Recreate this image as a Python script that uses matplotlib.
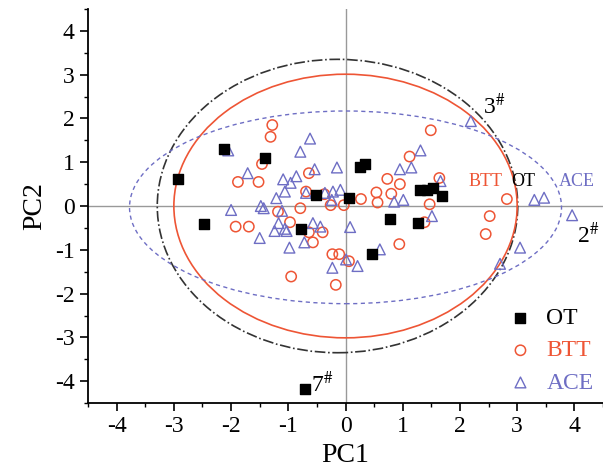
import numpy as np
import matplotlib
matplotlib.use('Agg')
import matplotlib.pyplot as plt
from matplotlib.patches import Ellipse
from matplotlib.ticker import MultipleLocator

plt.rcParams['font.family'] = ['Liberation Serif', 'DejaVu Serif']
plt.rcParams['mathtext.fontset'] = 'stix'
plt.rcParams['axes.unicode_minus'] = False

# OT samples (filled squares)
ot_x = [-2.93, -2.48, -2.13, -1.40, -0.77, -0.51, 0.06, 0.26, 0.34, 0.47,
        0.77, 1.27, 1.30, 1.42, 1.53, 1.68, -0.71]
ot_y = [0.61, -0.40, 1.30, 1.10, -0.53, 0.25, 0.18, 0.90, 0.97, -1.09,
        -0.29, -0.38, 0.37, 0.37, 0.42, 0.24, -4.17]

# BTT samples (open circles)
btt_x = [-1.28, -1.31, -1.46, -1.88, -1.52, -1.92, -1.69, -1.18, -0.79, -0.97,
         -0.64, -0.69, -0.64, -0.57, -0.40, -0.37, -0.26, -0.03, -0.23, -0.11,
         0.06, -0.95, -0.17, 0.27, 0.54, 0.56, 0.73, 0.80, 0.95, 0.94,
         1.12, 1.49, 1.64, 1.47, 1.38, 2.45, 2.52, 2.82]
btt_y = [1.85, 1.58, 0.96, 0.55, 0.55, -0.47, -0.47, -0.13, -0.05, -0.37,
         0.75, 0.33, -0.60, -0.83, -0.60, 0.27, 0.02, 0.02, -1.10, -1.10,
         -1.26, -1.61, -1.80, 0.16, 0.31, 0.08, 0.62, 0.28, 0.50, -0.87,
         1.13, 1.73, 0.64, 0.04, -0.37, -0.64, -0.23, 0.16]

# ACE samples (open triangles)
ace_x = [-2.05, -1.71, -2.00, -1.48, -1.43, -1.21, -1.09, -1.06, -0.96, -0.86,
         -0.79, -0.62, -0.54, -0.69, -1.11, -1.17, -1.24, -1.06, -1.03, -1.50,
         -0.98, -0.72, -0.57, -0.44, -0.36, -0.22, -0.09, -0.15, -0.24, -0.23,
         0.01, 0.21, 0.08, 0.60, 0.85, 1.01, 0.95, 1.15, 1.31, 1.51,
         1.66, 2.19, 3.30, 3.47, 3.96, 3.05, 2.70]
ace_y = [1.27, 0.75, -0.09, 0.00, -0.05, 0.18, 0.61, 0.33, 0.53, 0.68,
         1.24, 1.54, 0.84, 0.30, -0.11, -0.39, -0.57, -0.52, -0.57, -0.73,
         -0.95, -0.83, -0.39, -0.47, 0.30, 0.33, 0.37, 0.88, 0.14, -1.41,
         -1.22, -1.37, -0.48, -0.99, 0.10, 0.14, 0.84, 0.88, 1.27, -0.23,
         0.57, 1.94, 0.14, 0.19, -0.21, -0.95, -1.32]

red = '#ee5535'
blue = '#6e6ec4'

fig = plt.figure(figsize=(6.03, 4.72), dpi=100)
ax = fig.add_axes([0.146, 0.146, 0.854, 0.835])

ax.axhline(0, color='#999999', lw=1, zorder=1)
ax.axvline(0, color='#999999', lw=1, zorder=1)

# confidence ellipses
ax.add_patch(Ellipse((-0.14, 0), 6.3, 6.7, fill=False, ec='#333333', lw=1.2, ls='-.', zorder=2))
ax.add_patch(Ellipse((0, 0), 6.0, 6.02, fill=False, ec=red, lw=1.2, zorder=2))
ax.add_patch(Ellipse((0, -0.03), 7.55, 4.4, fill=False, ec=blue, lw=1.0, ls=(0, (3, 2.5)), zorder=2))

ax.scatter(ot_x, ot_y, marker='s', s=55, c='black', zorder=4, label='OT')
ax.scatter(btt_x, btt_y, marker='o', s=55, facecolors='none', edgecolors=red, linewidths=1.1, zorder=3, label='BTT')
ax.scatter(ace_x, ace_y, marker='^', s=60, facecolors='none', edgecolors=blue, linewidths=1.0, zorder=3, label='ACE')

ax.text(2.4, 2.1, '3$^{\\#}$', fontsize=17, zorder=5)
ax.text(4.05, -0.85, '2$^{\\#}$', fontsize=17, zorder=5, clip_on=False)
ax.text(-0.6, -4.25, '7$^{\\#}$', fontsize=17, zorder=5)
ax.text(2.15, 0.45, 'BTT', color=red, fontsize=13, zorder=5)
ax.text(2.9, 0.45, 'OT', color='black', fontsize=13, zorder=5)
ax.text(3.72, 0.45, 'ACE', color=blue, fontsize=13, zorder=5)

ax.set_xlim(-4.5, 4.5)
ax.set_ylim(-4.5, 4.5)
ax.xaxis.set_major_locator(MultipleLocator(1))
ax.yaxis.set_major_locator(MultipleLocator(1))
ax.xaxis.set_minor_locator(MultipleLocator(0.5))
ax.yaxis.set_minor_locator(MultipleLocator(0.5))
ax.tick_params(which='major', direction='out', length=6, width=1.2, labelsize=17)
ax.tick_params(which='minor', direction='out', length=3, width=1.0)
ax.spines['top'].set_visible(False)
ax.spines['right'].set_visible(False)
ax.spines['left'].set_linewidth(1.3)
ax.spines['bottom'].set_linewidth(1.3)

ax.set_xlabel('PC1', fontsize=20, labelpad=4)
ax.set_ylabel('PC2', fontsize=20, labelpad=6)

leg = ax.legend(loc='lower right', frameon=False, fontsize=17, handletextpad=0.5,
                handlelength=1.2, labelspacing=0.45, borderaxespad=0.0,
                bbox_to_anchor=(1.0, 0.0))
for txt, col in zip(leg.get_texts(), ['black', red, blue]):
    txt.set_color(col)

fig.savefig('out.png', dpi=100)
